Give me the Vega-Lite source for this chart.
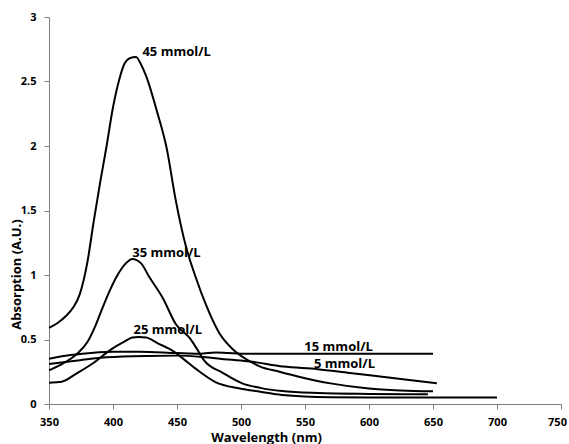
{
  "$schema": "https://vega.github.io/schema/vega-lite/v6.json",
  "width": 512,
  "height": 387,
  "autosize": "none",
  "padding": {"left": 49, "top": 17, "right": 8, "bottom": 40},
  "background": "white",
  "config": {
    "view": {"stroke": null},
    "font": "Open Sans",
    "axis": {"grid": false, "domainColor": "#7f7f7f", "tickColor": "#7f7f7f", "labelFont": "Open Sans", "labelFontWeight": "bold", "labelFontSize": 11, "labelColor": "#000", "titleFont": "Open Sans", "titleFontWeight": "bold", "titleFontSize": 13, "titleColor": "#000"}
  },
  "datasets": {
    "spectra": [
      {"series": "45", "wl": 350, "abs": 0.59}, {"series": "45", "wl": 357, "abs": 0.63}, {"series": "45", "wl": 363, "abs": 0.68}, {"series": "45", "wl": 369, "abs": 0.75}, {"series": "45", "wl": 374, "abs": 0.85}, {"series": "45", "wl": 380, "abs": 1.1}, {"series": "45", "wl": 385, "abs": 1.42}, {"series": "45", "wl": 390, "abs": 1.72}, {"series": "45", "wl": 395, "abs": 2.0}, {"series": "45", "wl": 400, "abs": 2.3}, {"series": "45", "wl": 405, "abs": 2.52}, {"series": "45", "wl": 409, "abs": 2.64}, {"series": "45", "wl": 413, "abs": 2.68}, {"series": "45", "wl": 418, "abs": 2.69}, {"series": "45", "wl": 422, "abs": 2.63}, {"series": "45", "wl": 426, "abs": 2.54}, {"series": "45", "wl": 434, "abs": 2.28}, {"series": "45", "wl": 442, "abs": 1.98}, {"series": "45", "wl": 449, "abs": 1.58}, {"series": "45", "wl": 457, "abs": 1.22}, {"series": "45", "wl": 464, "abs": 1.0}, {"series": "45", "wl": 473, "abs": 0.76}, {"series": "45", "wl": 483, "abs": 0.55}, {"series": "45", "wl": 494, "abs": 0.42}, {"series": "45", "wl": 507, "abs": 0.33}, {"series": "45", "wl": 515, "abs": 0.29}, {"series": "45", "wl": 530, "abs": 0.25}, {"series": "45", "wl": 546, "abs": 0.21}, {"series": "45", "wl": 570, "abs": 0.16}, {"series": "45", "wl": 600, "abs": 0.12}, {"series": "45", "wl": 625, "abs": 0.105}, {"series": "45", "wl": 650, "abs": 0.098},
      {"series": "35", "wl": 350, "abs": 0.26}, {"series": "35", "wl": 362, "abs": 0.32}, {"series": "35", "wl": 372, "abs": 0.39}, {"series": "35", "wl": 380, "abs": 0.48}, {"series": "35", "wl": 386, "abs": 0.6}, {"series": "35", "wl": 392, "abs": 0.75}, {"series": "35", "wl": 398, "abs": 0.89}, {"series": "35", "wl": 403, "abs": 0.99}, {"series": "35", "wl": 410, "abs": 1.09}, {"series": "35", "wl": 415, "abs": 1.125}, {"series": "35", "wl": 422, "abs": 1.09}, {"series": "35", "wl": 428, "abs": 0.99}, {"series": "35", "wl": 439, "abs": 0.82}, {"series": "35", "wl": 449, "abs": 0.62}, {"series": "35", "wl": 460, "abs": 0.51}, {"series": "35", "wl": 466, "abs": 0.42}, {"series": "35", "wl": 471, "abs": 0.34}, {"series": "35", "wl": 486, "abs": 0.24}, {"series": "35", "wl": 501, "abs": 0.16}, {"series": "35", "wl": 515, "abs": 0.125}, {"series": "35", "wl": 532, "abs": 0.1}, {"series": "35", "wl": 560, "abs": 0.085}, {"series": "35", "wl": 600, "abs": 0.078}, {"series": "35", "wl": 646, "abs": 0.075},
      {"series": "25", "wl": 350, "abs": 0.165}, {"series": "25", "wl": 360, "abs": 0.173}, {"series": "25", "wl": 372, "abs": 0.24}, {"series": "25", "wl": 385, "abs": 0.32}, {"series": "25", "wl": 398, "abs": 0.42}, {"series": "25", "wl": 409, "abs": 0.484}, {"series": "25", "wl": 415, "abs": 0.515}, {"series": "25", "wl": 420, "abs": 0.52}, {"series": "25", "wl": 426, "abs": 0.515}, {"series": "25", "wl": 435, "abs": 0.47}, {"series": "25", "wl": 447, "abs": 0.41}, {"series": "25", "wl": 455, "abs": 0.35}, {"series": "25", "wl": 465, "abs": 0.27}, {"series": "25", "wl": 480, "abs": 0.17}, {"series": "25", "wl": 499, "abs": 0.12}, {"series": "25", "wl": 515, "abs": 0.095}, {"series": "25", "wl": 532, "abs": 0.07}, {"series": "25", "wl": 570, "abs": 0.052}, {"series": "25", "wl": 600, "abs": 0.05}, {"series": "25", "wl": 650, "abs": 0.05}, {"series": "25", "wl": 700, "abs": 0.05},
      {"series": "15", "wl": 350, "abs": 0.35}, {"series": "15", "wl": 360, "abs": 0.37}, {"series": "15", "wl": 376, "abs": 0.39}, {"series": "15", "wl": 400, "abs": 0.405}, {"series": "15", "wl": 421, "abs": 0.406}, {"series": "15", "wl": 450, "abs": 0.395}, {"series": "15", "wl": 468, "abs": 0.39}, {"series": "15", "wl": 480, "abs": 0.4}, {"series": "15", "wl": 490, "abs": 0.395}, {"series": "15", "wl": 500, "abs": 0.39}, {"series": "15", "wl": 650, "abs": 0.39},
      {"series": "5", "wl": 350, "abs": 0.31}, {"series": "5", "wl": 374, "abs": 0.34}, {"series": "5", "wl": 395, "abs": 0.363}, {"series": "5", "wl": 426, "abs": 0.373}, {"series": "5", "wl": 450, "abs": 0.375}, {"series": "5", "wl": 470, "abs": 0.365}, {"series": "5", "wl": 490, "abs": 0.345}, {"series": "5", "wl": 507, "abs": 0.33}, {"series": "5", "wl": 533, "abs": 0.29}, {"series": "5", "wl": 560, "abs": 0.27}, {"series": "5", "wl": 585, "abs": 0.24}, {"series": "5", "wl": 620, "abs": 0.2}, {"series": "5", "wl": 653, "abs": 0.16}
    ],
    "labels": [
      {"label": "45 mmol/L", "wl": 423, "abs": 2.73},
      {"label": "35 mmol/L", "wl": 415, "abs": 1.17},
      {"label": "25 mmol/L", "wl": 416, "abs": 0.575},
      {"label": "15 mmol/L", "wl": 549.5, "abs": 0.44},
      {"label": "5 mmol/L", "wl": 557, "abs": 0.31}
    ]
  },
  "layer": [
    {
      "data": {"name": "spectra"},
      "mark": {"type": "line", "color": "#000", "strokeWidth": 2, "interpolate": "monotone"},
      "encoding": {
        "x": {"field": "wl", "type": "quantitative", "title": "Wavelength (nm)", "scale": {"domain": [350, 750], "nice": false, "zero": false}, "axis": {"values": [350, 400, 450, 500, 550, 600, 650, 700, 750], "tickSize": 5, "labelPadding": 7, "titlePadding": 4, "titleX": 217, "titleAlign": "center", "labelFlush": false, "labelOffset": {"condition": {"test": "datum.value == 750", "value": -4}, "value": 0}}},
        "y": {"field": "abs", "type": "quantitative", "title": "Absorption (A.U.)", "scale": {"domain": [0, 3], "nice": false}, "axis": {"values": [0, 0.5, 1, 1.5, 2, 2.5, 3], "format": "~g", "tickSize": 5, "labelPadding": 8, "titleX": -33, "titleY": 257, "titleAlign": "center", "titleBaseline": "middle", "titleAngle": -90, "labelFlush": false}},
        "detail": {"field": "series", "type": "nominal"}
      }
    },
    {
      "data": {"name": "labels"},
      "mark": {"type": "text", "align": "left", "baseline": "middle", "font": "Open Sans", "fontWeight": "bold", "fontSize": 13, "color": "#000"},
      "encoding": {
        "x": {"field": "wl", "type": "quantitative"},
        "y": {"field": "abs", "type": "quantitative"},
        "text": {"field": "label", "type": "nominal"}
      }
    }
  ]
}
